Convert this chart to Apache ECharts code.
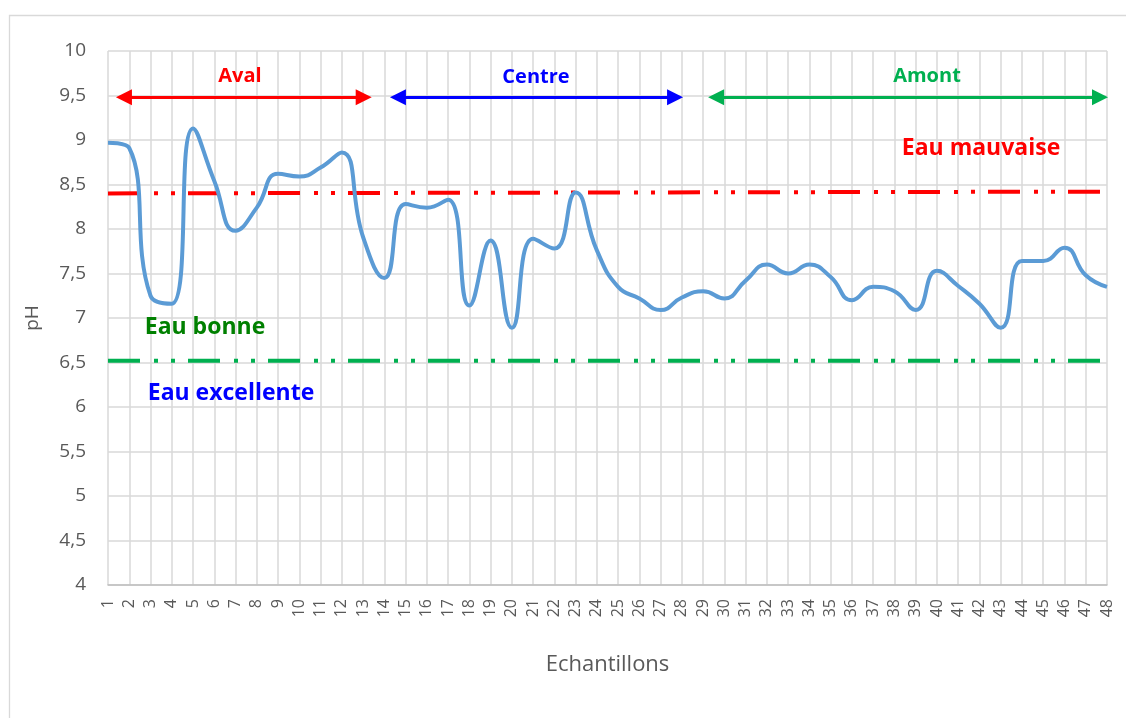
<!DOCTYPE html>
<html>
<head>
<meta charset="utf-8">
<script src="https://cdn.jsdelivr.net/npm/echarts@6/dist/echarts.min.js"></script>
<style>
  html, body { margin: 0; padding: 0; background: #fff; }
  #main { width: 1126px; height: 718px; }
</style>
</head>
<body>
<div id="main"></div>
<script>
const chartDom = document.getElementById('main');
const myChart = echarts.init(chartDom);

// echantillons 1..48
const echantillons = [1,2,3,4,5,6,7,8,9,10,11,12,13,14,15,16,17,18,19,20,21,22,23,24,
  25,26,27,28,29,30,31,32,33,34,35,36,37,38,39,40,41,42,43,44,45,46,47,48];

const ph = [8.97, 8.91, 7.25, 7.16, 9.13, 8.54, 7.98, 8.24, 8.62, 8.59, 8.69, 8.86,
  7.91, 7.45, 8.28, 8.24, 8.33, 7.14, 7.87, 6.89, 7.89, 7.78, 8.41, 7.76,
  7.35, 7.22, 7.09, 7.23, 7.30, 7.22, 7.42, 7.60, 7.50, 7.60, 7.46, 7.20,
  7.35, 7.30, 7.09, 7.53, 7.36, 7.16, 6.89, 7.64, 7.64, 7.79, 7.48, 7.35];

// seuils (debut, fin)
const seuilMauvaise = [8.40, 8.42];
const seuilBonne = [6.52, 6.52];

// zones : [debut, fin] en echantillons
const zones = ['Aval', 'Centre', 'Amont'];
const zonesDebut = [1.75, 14.64, 29.61];
const zonesFin = [13.03, 27.68, 47.67];
const zonesCouleur = ['#ff0000', '#0000ff', '#00b050'];
const niveauFleche = 9.48;

const pointsPh = echantillons.map((e, i) => [e, ph[i]]);
const premier = echantillons[0];
const dernier = echantillons[echantillons.length - 1];

const tiret = [32, 14, 4, 13, 4, 13];

const fleches = zones.map((z, i) => [
  { coord: [zonesDebut[i], niveauFleche], lineStyle: { color: zonesCouleur[i] }, itemStyle: { color: zonesCouleur[i] } },
  { coord: [zonesFin[i], niveauFleche] }
]);

const texte = (txt, x, y, size, color) => ({
  type: 'text',
  x: x, y: y,
  z: 100,
  style: {
    text: txt,
    font: `bold ${size}px "Open Sans"`,
    fill: color,
    textAlign: 'center',
    textVerticalAlign: 'middle'
  }
});

myChart.setOption({
  animation: false,
  grid: { left: 108, right: 19, top: 51, bottom: 133 },
  xAxis: {
    type: 'value',
    min: 1,
    max: 48,
    interval: 1,
    name: 'Echantillons',
    nameLocation: 'middle',
    nameGap: 69,
    nameTextStyle: { color: '#595959', fontSize: 22, fontFamily: 'Open Sans' },
    axisLine: { show: true, lineStyle: { color: '#bfbfbf', width: 1.5 } },
    axisTick: { show: false },
    axisLabel: { rotate: 90, margin: 14, color: '#595959', fontSize: 16, fontFamily: 'Open Sans' },
    splitLine: { show: true, lineStyle: { color: '#d9d9d9', width: 1.5 } }
  },
  yAxis: {
    type: 'value',
    min: 4,
    max: 10,
    interval: 0.5,
    name: 'pH',
    nameLocation: 'middle',
    nameRotate: 90,
    nameGap: 66,
    nameTextStyle: { color: '#595959', fontSize: 19, fontFamily: 'Open Sans' },
    axisLine: { show: false },
    axisTick: { show: false },
    axisLabel: {
      margin: 22, color: '#595959', fontSize: 19, fontFamily: 'Open Sans',
      formatter: (v) => String(v).replace('.', ',')
    },
    splitLine: { show: true, lineStyle: { color: '#d9d9d9', width: 1.5 } }
  },
  series: [
    {
      name: 'Eau mauvaise',
      type: 'line',
      data: [[premier, seuilMauvaise[0]], [dernier, seuilMauvaise[1]]],
      symbol: 'none',
      silent: true,
      lineStyle: { color: '#ff0000', width: 4, type: tiret, cap: 'butt' }
    },
    {
      name: 'Eau bonne',
      type: 'line',
      data: [[premier, seuilBonne[0]], [dernier, seuilBonne[1]]],
      symbol: 'none',
      silent: true,
      lineStyle: { color: '#00b050', width: 4, type: tiret, cap: 'butt' }
    },
    {
      name: 'pH',
      type: 'line',
      data: pointsPh,
      smooth: 0.5,
      symbol: 'none',
      lineStyle: { color: '#5b9bd5', width: 4 },
      markLine: {
        silent: true,
        symbol: ['triangle', 'triangle'],
        symbolSize: 16,
        label: { show: false },
        lineStyle: { type: 'solid', width: 3 },
        data: fleches
      }
    }
  ],
  graphic: [
    {
      type: 'rect',
      shape: { x: 9.5, y: 15.5, width: 1300, height: 900 },
      style: { fill: 'none', stroke: '#d9d9d9', lineWidth: 1.3 },
      silent: true
    },
    texte('Aval', 240, 76, 20, '#ff0000'),
    texte('Centre', 536, 77, 20, '#0000ff'),
    texte('Amont', 927, 76, 20, '#00b050'),
    texte('Eau mauvaise', 981, 148, 23, '#ff0000'),
    texte('Eau bonne', 205, 327, 23, '#008000'),
    texte('Eau excellente', 231, 393, 23, '#0000ff')
  ]
});

window.addEventListener('resize', () => {
  myChart.resize();
});
</script>
</body>
</html>
